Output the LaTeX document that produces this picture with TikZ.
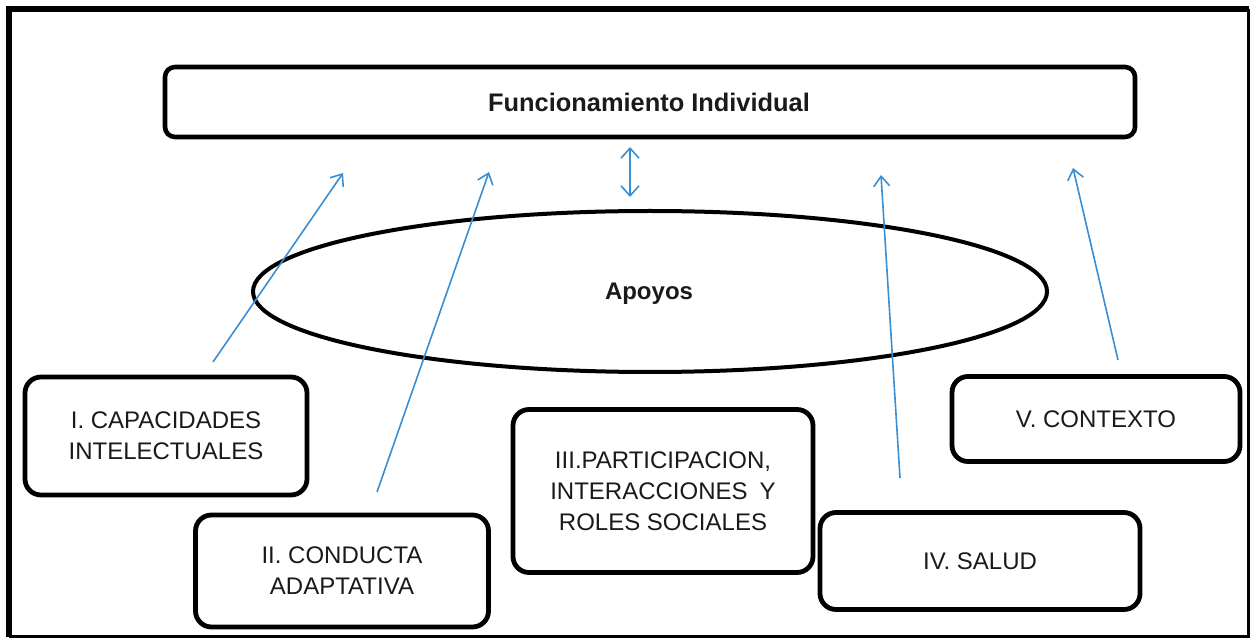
\documentclass[tikz,border=0pt]{standalone}
\usepackage{fontspec}
\setmainfont{Liberation Sans}
\usetikzlibrary{arrows.meta}
\definecolor{arrowblue}{HTML}{3A8FD4}
\definecolor{txt}{HTML}{1A1A1A}
\tikzset{
  box/.style={draw=black, line width=2.4pt, rounded corners=8pt, text=txt, align=center, inner sep=0pt, font=\fontsize{12}{15.5}\selectfont},
  topbox/.style={draw=black, line width=2.3pt, rounded corners=5pt, inner sep=0pt},
  flow/.style={draw=arrowblue, line width=0.8pt, -{Straight Barb[length=5pt,width=8pt,line width=0.8pt]}},
  both/.style={draw=arrowblue, line width=0.8pt, {Straight Barb[length=5pt,width=9pt,line width=0.8pt]}-{Straight Barb[length=5pt,width=9pt,line width=0.8pt]}}
}
\begin{document}
\begin{tikzpicture}[x=0.5pt,y=-0.5pt]
\useasboundingbox (0,0) rectangle (1252,641);
\fill[white] (0,0) rectangle (1252,641);
% frame
\draw[line width=1.5pt] (1248,9) -- (1248,636) -- (9,636);
\draw[line width=2.6pt] (9,637) -- (9,9) -- (1249,9);
% top box
\node[topbox, minimum width=970*0.5pt, minimum height=70*0.5pt] (top) at (650,102) {};
\node[text=txt, font=\fontsize{12.7}{15}\selectfont\bfseries] (toptxt) at (649,102) {Funcionamiento Individual};
% ellipse
\draw[line width=2pt] (650,291.5) ellipse [x radius=397, y radius=80.5];
\node[text=txt, font=\fontsize{12}{15}\selectfont\bfseries] (apoyos) at (649,294) {Apoyos};
% boxes
\node[box, minimum width=282*0.5pt, minimum height=118*0.5pt] (b1) at (166,436) {I. CAPACIDADES\\INTELECTUALES};
\node[box, minimum width=293*0.5pt, minimum height=112*0.5pt] (b2) at (342,571) {II. CONDUCTA\\ADAPTATIVA};
\node[box, minimum width=300*0.5pt, minimum height=163*0.5pt] (b3) at (663,491) {III.PARTICIPACION,\\INTERACCIONES\hspace{6pt}Y\\ROLES SOCIALES};
\node[box, minimum width=320*0.5pt, minimum height=97*0.5pt] (b4) at (980,561) {IV. SALUD};
\node[box, minimum width=288*0.5pt, minimum height=85*0.5pt] (b5) at (1096,419) {V. CONTEXTO};
% arrow endpoints
\coordinate (a1s) at (213,362); \coordinate (a1e) at (343,173);
\coordinate (a2s) at (377,492); \coordinate (a2e) at (489,172);
\coordinate (a3s) at (900,478); \coordinate (a3e) at (881,175);
\coordinate (a4s) at (1118,360); \coordinate (a4e) at (1073,168);
\coordinate (d1) at (630,147); \coordinate (d2) at (630,197);
\draw[flow] (a1s) -- (a1e);
\draw[flow] (a2s) -- (a2e);
\draw[flow] (a3s) -- (a3e);
\draw[flow] (a4s) -- (a4e);
\draw[both] (d1) -- (d2);
\end{tikzpicture}
\end{document}
